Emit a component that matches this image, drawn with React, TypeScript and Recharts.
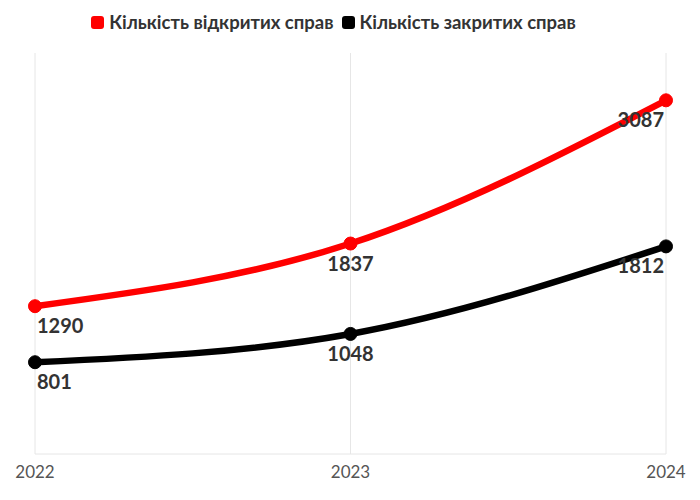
import React from "react";
import { LineChart, Line, XAxis, YAxis, CartesianGrid, Legend, LabelList } from "recharts";

const years = ["2022", "2023", "2024"];
const openedCases = [1290, 1837, 3087];
const closedCases = [801, 1048, 1812];
const seriesNames = ["Кількість відкритих справ", "Кількість закритих справ"];
const seriesColors = ["#ff0000", "#000000"];

const data = years.map((y, i) => ({ year: y, opened: openedCases[i], closed: closedCases[i] }));

const FONT = "Lato, 'Open Sans', sans-serif";

const renderLabel = (props: any) => {
  const { x, y, value, index } = props;
  const anchor = index === 0 ? "start" : index === years.length - 1 ? "end" : "middle";
  const dx = index === 0 ? 2 : index === years.length - 1 ? -2 : 0;
  return (
    <text x={x + dx} y={y + 27} textAnchor={anchor} fontFamily={FONT} fontWeight={700} fontSize={20} fill="#333333">
      {value}
    </text>
  );
};

const renderLegend = () => (
  <div style={{ display: "flex", justifyContent: "center", alignItems: "center", paddingRight: 34, fontFamily: FONT, fontWeight: 700, fontSize: 18.5, lineHeight: "20px", color: "#333333" }}>
    {seriesNames.map((n, i) => (
      <div key={n} style={{ display: "flex", alignItems: "center", marginRight: i === 0 ? 8 : 0 }}>
        <span style={{ display: "inline-block", width: 13, height: 13, borderRadius: 3, background: seriesColors[i], marginRight: 5 }} />
        <span>{n}</span>
      </div>
    ))}
  </div>
);

export default function App() {
  return (
    <div style={{ position: "absolute", left: 0, top: 0, width: 700, height: 500, background: "#fff" }}>
      <LineChart width={700} height={500} data={data} margin={{ top: 33, right: 34, bottom: 16, left: 35 }}>
        <CartesianGrid horizontal={false} vertical={true} stroke="#e6e6e6" />
        <XAxis
          dataKey="year"
          stroke="#e6e6e6"
          tickLine={false}
          tick={{ fill: "#555555", fontSize: 17, fontFamily: FONT }}
          tickMargin={6}
          interval={0}
          height={30}
        />
        <YAxis hide domain={[0, 3500]} />
        <Legend verticalAlign="top" content={renderLegend} wrapperStyle={{ top: 12 }} height={20} />
        <Line
          type="monotone"
          dataKey="opened"
          name={seriesNames[0]}
          stroke={seriesColors[0]}
          strokeWidth={6.5}
          dot={{ r: 6.5, fill: seriesColors[0], stroke: seriesColors[0], strokeWidth: 1 }}
          activeDot={false}
          isAnimationActive={false}
        >
          <LabelList dataKey="opened" content={renderLabel} />
        </Line>
        <Line
          type="monotone"
          dataKey="closed"
          name={seriesNames[1]}
          stroke={seriesColors[1]}
          strokeWidth={6.5}
          dot={{ r: 6.5, fill: seriesColors[1], stroke: seriesColors[1], strokeWidth: 1 }}
          activeDot={false}
          isAnimationActive={false}
        >
          <LabelList dataKey="closed" content={renderLabel} />
        </Line>
      </LineChart>
    </div>
  );
}
